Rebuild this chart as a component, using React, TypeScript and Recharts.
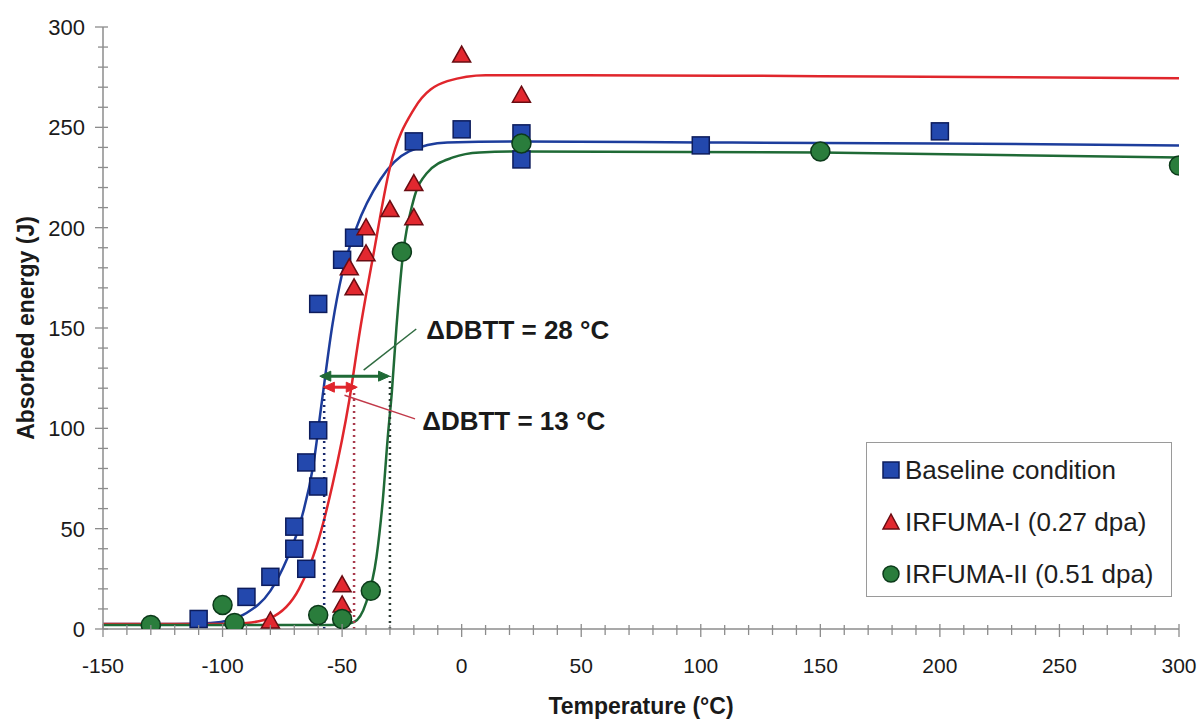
import React from 'react';
import { ComposedChart, Line, Scatter, XAxis, YAxis, Legend } from 'recharts';

const FONT = '"Liberation Sans", Arial, Helvetica, sans-serif';

// ---- axis ticks ----
const X_MAJOR_TICKS = [-150, -100, -50, 0, 50, 100, 150, 200, 250, 300];
const Y_MAJOR_TICKS = [0, 50, 100, 150, 200, 250, 300];
const X_MINOR_STEP = 10;
const Y_MINOR_STEP = 10;
const X_TICKS: number[] = [];
for (let v = -150; v <= 300; v += X_MINOR_STEP) X_TICKS.push(v);
const Y_TICKS: number[] = [];
for (let v = 0; v <= 300; v += Y_MINOR_STEP) Y_TICKS.push(v);

// ---- measured points ----
const baselinePoints = [
  { x: -110, y: 5 }, { x: -90, y: 16 }, { x: -80, y: 26 }, { x: -65, y: 30 },
  { x: -70, y: 40 }, { x: -70, y: 51 }, { x: -60, y: 71 }, { x: -65, y: 83 },
  { x: -60, y: 99 }, { x: -60, y: 162 }, { x: -50, y: 184 }, { x: -45, y: 195 },
  { x: -20, y: 243 }, { x: 0, y: 249 }, { x: 25, y: 247 }, { x: 25, y: 234 },
  { x: 100, y: 241 }, { x: 200, y: 248 },
];
const irfuma1Points = [
  { x: -80, y: 4 }, { x: -50, y: 22 }, { x: -50, y: 12 }, { x: -45, y: 170 },
  { x: -47, y: 180 }, { x: -40, y: 187 }, { x: -40, y: 200 }, { x: -30, y: 209 },
  { x: -20, y: 205 }, { x: -20, y: 222 }, { x: 0, y: 286 }, { x: 25, y: 266 },
];
const irfuma2Points = [
  { x: -130, y: 2 }, { x: -100, y: 12 }, { x: -95, y: 3 }, { x: -60, y: 7 },
  { x: -50, y: 5 }, { x: -38, y: 19 }, { x: -25, y: 188 }, { x: 25, y: 242 },
  { x: 150, y: 238 }, { x: 300, y: 231 },
];

// ---- fitted curves ----
const baselineCurve = [
  { x: -150, y: 2.5 }, { x: -120, y: 2.5 }, { x: -105, y: 3 }, { x: -97, y: 4.5 },
  { x: -90, y: 8 }, { x: -80, y: 19 }, { x: -73, y: 35 }, { x: -68, y: 51 },
  { x: -62, y: 82 }, { x: -58.5, y: 113 }, { x: -54, y: 152 }, { x: -50, y: 177 },
  { x: -44, y: 200 }, { x: -34, y: 224 }, { x: -22, y: 238 }, { x: -6, y: 242.5 },
  { x: 25, y: 243 }, { x: 100, y: 242.5 }, { x: 200, y: 242 }, { x: 300, y: 241 },
];
const irfuma1Curve = [
  { x: -150, y: 2.5 }, { x: -100, y: 2.5 }, { x: -90, y: 3 }, { x: -80, y: 5.5 },
  { x: -68, y: 20 }, { x: -61, y: 40 }, { x: -54, y: 72 }, { x: -47, y: 114 },
  { x: -42.5, y: 149 }, { x: -37, y: 186 }, { x: -30, y: 230 }, { x: -20, y: 259 },
  { x: -6, y: 273 }, { x: 10, y: 276 }, { x: 50, y: 276 }, { x: 150, y: 275.5 },
  { x: 300, y: 274.5 },
];
const irfuma2Curve = [
  { x: -150, y: 2 }, { x: -60, y: 2 }, { x: -50, y: 2.3 }, { x: -45, y: 3.5 },
  { x: -40, y: 13 }, { x: -35.6, y: 36 }, { x: -33, y: 64 }, { x: -30.8, y: 97 },
  { x: -29.2, y: 118 }, { x: -27.3, y: 150 }, { x: -24.7, y: 185 }, { x: -20.3, y: 213 },
  { x: -14.7, y: 227 }, { x: -3.6, y: 235 }, { x: 7.5, y: 237.5 }, { x: 25, y: 238 },
  { x: 150, y: 237.5 }, { x: 300, y: 235 },
];

// ---- DBTT construction ----
const blueDbttLine = [{ x: -57.5, y: 0 }, { x: -57.5, y: 121 }];
const redDbttLine = [{ x: -45, y: 0 }, { x: -45, y: 121 }];
const greenDbttLine = [{ x: -30, y: 0 }, { x: -30, y: 126 }];
const greenArrow = [{ x: -58.5, y: 126 }, { x: -31, y: 126 }];
const redArrow = [{ x: -57, y: 120.5 }, { x: -44.5, y: 120.5 }];
const greenLeader = [{ x: -41, y: 129 }, { x: -19, y: 149.5 }];
const redLeader = [{ x: -49, y: 116.5 }, { x: -19.5, y: 104.7 }];
const annotations = [
  { x: -14.8, y: 148.8, label: '\u0394DBTT = 28 \u00b0C' },
  { x: -16.5, y: 103.8, label: '\u0394DBTT = 13 \u00b0C' },
];

const SERIES_NAMES = ['Baseline condition', 'IRFUMA-I (0.27 dpa)', 'IRFUMA-II (0.51 dpa)'];

const BLUE = '#1d3d9c';
const RED = '#e0262c';
const GREEN = '#1f6a36';
const AXIS = '#8c8c8c';

const SquareMark = (p: any) => (
  <rect x={p.cx - 8.5} y={p.cy - 8.5} width={17} height={17} fill="#2348ad" stroke="#0d1c5c" strokeWidth={1.5} />
);
const TriangleMark = (p: any) => (
  <path d={`M${p.cx},${p.cy - 9} L${p.cx + 9},${p.cy + 7} L${p.cx - 9},${p.cy + 7} Z`} fill="#e2282f" stroke="#6a0c12" strokeWidth={1.5} />
);
const CircleMark = (p: any) => (
  <circle cx={p.cx} cy={p.cy} r={9.5} fill="#2a7d3c" stroke="#0c3a1a" strokeWidth={1.5} />
);

const makeArrowHead = (color: string) => (p: any) => {
  const dir = p.index === 0 ? -1 : 1;
  const { cx, cy } = p;
  return (
    <path key={`ah-${p.index}`} d={`M${cx + dir * 2},${cy} L${cx - dir * 9},${cy - 5} L${cx - dir * 9},${cy + 5} Z`} fill={color} stroke={color} />
  );
};

const TextMark = (p: any) => (
  <text x={p.cx} y={p.cy + 9} fontSize={26} fontWeight="bold" fontFamily={FONT} fill="#1a1a1a">
    {p.payload && p.payload.label}
  </text>
);

const XTick = (props: any) => {
  const { x, y, payload } = props;
  const v = payload.value;
  const major = X_MAJOR_TICKS.includes(v);
  const ay = y - 8;
  return (
    <g>
      <line x1={x} x2={x} y1={ay - (major ? 5 : 4)} y2={ay + (major ? 8 : 6)} stroke={AXIS} strokeWidth={1.3} />
      {major && (
        <text x={x} y={ay + 44} textAnchor="middle" fontSize={21} fontFamily={FONT} fill="#1a1a1a">{v}</text>
      )}
    </g>
  );
};

const YTick = (props: any) => {
  const { x, y, payload } = props;
  const v = payload.value;
  const major = Y_MAJOR_TICKS.includes(v);
  const ax = x + 8;
  return (
    <g>
      <line x1={ax - (major ? 8 : 5)} x2={ax + 5} y1={y} y2={y} stroke={AXIS} strokeWidth={1.3} />
      {major && (
        <text x={ax - 18} y={y + 8} textAnchor="end" fontSize={22} fontFamily={FONT} fill="#1a1a1a">{v}</text>
      )}
    </g>
  );
};

const YTitle = (props: any) => {
  const vb = props.viewBox || { x: 0, y: 27, width: 103, height: 602 };
  const cx = vb.x + 26;
  const cy = vb.y + vb.height / 2;
  return (
    <text x={cx} y={cy} transform={`rotate(-90, ${cx}, ${cy})`} textAnchor="middle" dominantBaseline="central"
      fontSize={23} fontWeight="bold" fontFamily={FONT} fill="#1a1a1a">Absorbed energy (J)</text>
  );
};

const XTitle = (props: any) => {
  const vb = props.viewBox || { x: 103, y: 629, width: 1076, height: 90 };
  return (
    <text x={vb.x + vb.width / 2} y={vb.y + 85} textAnchor="middle" fontSize={23} fontWeight="bold"
      fontFamily={FONT} fill="#1a1a1a">Temperature (°C)</text>
  );
};

const legendIcons = [
  <svg width={20} height={20} key="s"><rect x={2} y={2} width={16} height={16} fill="#2348ad" stroke="#0d1c5c" strokeWidth={1.5} /></svg>,
  <svg width={20} height={20} key="t"><path d="M10,2 L18,17 L2,17 Z" fill="#e2282f" stroke="#6a0c12" strokeWidth={1.5} /></svg>,
  <svg width={20} height={20} key="c"><circle cx={10} cy={10} r={8} fill="#2a7d3c" stroke="#0c3a1a" strokeWidth={1.5} /></svg>,
];

const LegendBox = () => (
  <div style={{
    width: 306, height: 155, boxSizing: 'border-box', border: '1.5px solid #9a9a9a', background: '#fff',
    paddingTop: 1, fontFamily: FONT,
  }}>
    {SERIES_NAMES.map((n, i) => (
      <div key={n} style={{ height: 52, display: 'flex', alignItems: 'center', paddingLeft: 14 }}>
        {legendIcons[i]}
        <span style={{ fontSize: 26, color: '#1e1e1e', marginLeft: 4, lineHeight: '52px', whiteSpace: 'nowrap' }}>{n}</span>
      </div>
    ))}
  </div>
);

export default function App() {
  return (
    <div style={{ position: 'absolute', left: 0, top: 0, width: 1202, height: 719, background: '#fff' }}>
      <ComposedChart width={1202} height={719} margin={{ top: 27, right: 23, left: 0, bottom: 0 }}>
        <XAxis type="number" dataKey="x" domain={[-150, 300]} ticks={X_TICKS} interval={0}
          tick={<XTick />} tickLine={false} tickSize={8} tickMargin={0} height={90}
          axisLine={{ stroke: AXIS, strokeWidth: 1.5 }} allowDataOverflow label={<XTitle />} />
        <YAxis type="number" dataKey="y" domain={[0, 300]} ticks={Y_TICKS} interval={0}
          tick={<YTick />} tickLine={false} tickSize={8} tickMargin={0} width={103}
          axisLine={{ stroke: AXIS, strokeWidth: 1.5 }} allowDataOverflow label={<YTitle />} />
        <Legend layout="vertical" align="center" verticalAlign="middle" content={<LegendBox />}
          wrapperStyle={{ left: 866, top: 442, width: 306, height: 155 }} />

        <Line data={baselineCurve} dataKey="y" type="monotone" stroke={BLUE} strokeWidth={2.5} dot={false} activeDot={false} isAnimationActive={false} legendType="none" />
        <Line data={irfuma1Curve} dataKey="y" type="monotone" stroke={RED} strokeWidth={2.5} dot={false} activeDot={false} isAnimationActive={false} legendType="none" />
        <Line data={irfuma2Curve} dataKey="y" type="monotone" stroke={GREEN} strokeWidth={2.5} dot={false} activeDot={false} isAnimationActive={false} legendType="none" />

        <Line data={blueDbttLine} dataKey="y" type="linear" stroke="#1a2a6e" strokeWidth={2.5} strokeDasharray="2 4" dot={false} activeDot={false} isAnimationActive={false} legendType="none" />
        <Line data={redDbttLine} dataKey="y" type="linear" stroke="#a83a4c" strokeWidth={2.5} strokeDasharray="2 4" dot={false} activeDot={false} isAnimationActive={false} legendType="none" />
        <Line data={greenDbttLine} dataKey="y" type="linear" stroke="#2a3a32" strokeWidth={2.5} strokeDasharray="2 4" dot={false} activeDot={false} isAnimationActive={false} legendType="none" />

        <Scatter name={SERIES_NAMES[0]} data={baselinePoints} shape={<SquareMark />} isAnimationActive={false} />
        <Scatter name={SERIES_NAMES[1]} data={irfuma1Points} shape={<TriangleMark />} isAnimationActive={false} />
        <Scatter name={SERIES_NAMES[2]} data={irfuma2Points} shape={<CircleMark />} isAnimationActive={false} />

        <Line data={greenArrow} dataKey="y" type="linear" stroke={GREEN} strokeWidth={3} dot={makeArrowHead(GREEN)} activeDot={false} isAnimationActive={false} legendType="none" />
        <Line data={redArrow} dataKey="y" type="linear" stroke={RED} strokeWidth={3} dot={makeArrowHead(RED)} activeDot={false} isAnimationActive={false} legendType="none" />
        <Line data={greenLeader} dataKey="y" type="linear" stroke="#2f6b40" strokeWidth={1.5} dot={false} activeDot={false} isAnimationActive={false} legendType="none" />
        <Line data={redLeader} dataKey="y" type="linear" stroke="#c23a4a" strokeWidth={1.5} dot={false} activeDot={false} isAnimationActive={false} legendType="none" />

        <Scatter data={annotations} shape={<TextMark />} isAnimationActive={false} legendType="none" />
      </ComposedChart>
    </div>
  );
}
